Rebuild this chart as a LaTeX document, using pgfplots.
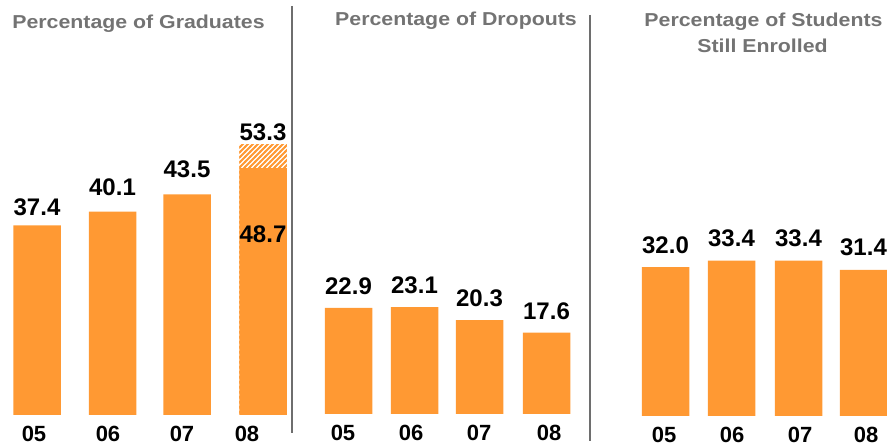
\documentclass[border=0pt]{standalone}
\usepackage{pgfplots}
\pgfplotsset{compat=1.18}
\usepackage{pgfplotstable}
\usetikzlibrary{patterns}
\usepackage{fontspec}
\setmainfont{Liberation Sans}
\newfontfamily\titlefont[FakeStretch=1.14]{Liberation Sans}
\definecolor{barorange}{HTML}{FF9933}
\definecolor{titlegrey}{HTML}{737373}
\definecolor{sepgrey}{HTML}{6E6E6E}

\pgfdeclarepatternformonly{hatchstripes}{\pgfqpoint{-1pt}{-1pt}}{\pgfqpoint{6pt}{6pt}}{\pgfqpoint{5pt}{5pt}}{%
  \pgfsetlinewidth{1.8pt}\pgfpathmoveto{\pgfqpoint{-1pt}{-1pt}}\pgfpathlineto{\pgfqpoint{6pt}{6pt}}\pgfusepath{stroke}}

% x = bar centre (pt), y = value, dy = label offset above bar top
\pgfplotstableread{
x y dy label
37 37.4 10 37.4
112.5 40.1 16 40.1
187 43.5 17 43.5
263 48.7 -74 48.7
}\gradtable
\pgfplotstableread{
x y dy label
263 53.3 4 53.3
}\gradextra
\pgfplotstableread{
x y dy label
348.5 22.9 13 22.9
414.5 23.1 14 23.1
479.5 20.3 14 20.3
546.5 17.6 13.5 17.6
}\droptable
\pgfplotstableread{
x y dy label
665.5 32.0 13.7 32.0
731.5 33.4 13.7 33.4
798.5 33.4 13.7 33.4
863.5 31.4 14.3 31.4
}\enrtable

\pgfplotsset{
  panel/.style={scale only axis, anchor=south west, height=380pt, ymin=0, clip=false,
    axis line style={draw=none}, major tick style={draw=none}, ytick=\empty,
    xticklabels={05,06,07,08},
    xticklabel style={font=\fontsize{22}{22}\selectfont\bfseries, text=black, anchor=center, yshift=-19pt}},
  valbar/.style={ybar, bar shift=0pt, bar width=47.5, draw=none, fill=barorange,
    nodes near coords, point meta=explicit symbolic,
    visualization depends on={\thisrow{dy}\as\dy},
    every node near coord/.append style={font=\fontsize{24}{24}\selectfont\bfseries, text=black, anchor=base, yshift=\dy pt, inner sep=0pt}},
}

\begin{document}
\begin{tikzpicture}
\useasboundingbox (0,0) rectangle (887pt,447pt);

\begin{axis}[panel, at={(0pt,32pt)}, width=291.5pt, xmin=0, xmax=291.5, ymax=74.95,
  xtick={34,108,182,247}]
\addplot[valbar, fill=none, pattern=hatchstripes, pattern color=barorange] table[x=x, y=y, meta=label] {\gradextra};
\addplot[valbar] table[x=x, y=y, meta=label] {\gradtable};
\end{axis}

\begin{axis}[panel, at={(291.5pt,33pt)}, width=298.5pt, xmin=291.5, xmax=590, ymax=82.07,
  xtick={343,411,479,549}]
\addplot[valbar] table[x=x, y=y, meta=label] {\droptable};
\end{axis}

\begin{axis}[panel, at={(590pt,31pt)}, width=297pt, xmin=590, xmax=887, ymax=81.72,
  xtick={664,732,800,866}]
\addplot[valbar] table[x=x, y=y, meta=label] {\enrtable};
\end{axis}

\draw[sepgrey, line width=2pt] (291.5pt,441pt) -- (291.5pt,14pt);
\draw[sepgrey, line width=2pt] (590pt,432pt) -- (590pt,6pt);

\node[anchor=base, text=titlegrey, font=\titlefont\bfseries\fontsize{18.7}{18.7}\selectfont] at (138.5pt,418.5pt) {Percentage of Graduates};
\node[anchor=base, text=titlegrey, font=\titlefont\bfseries\fontsize{18.7}{18.7}\selectfont] at (456pt,421pt) {Percentage of Dropouts};
\node[anchor=base, text=titlegrey, font=\titlefont\bfseries\fontsize{18.7}{18.7}\selectfont] at (763.5pt,420.3pt) {Percentage of Students};
\node[anchor=base, text=titlegrey, font=\titlefont\bfseries\fontsize{18.7}{18.7}\selectfont] at (762.5pt,394.3pt) {Still Enrolled};
\end{tikzpicture}
\end{document}
